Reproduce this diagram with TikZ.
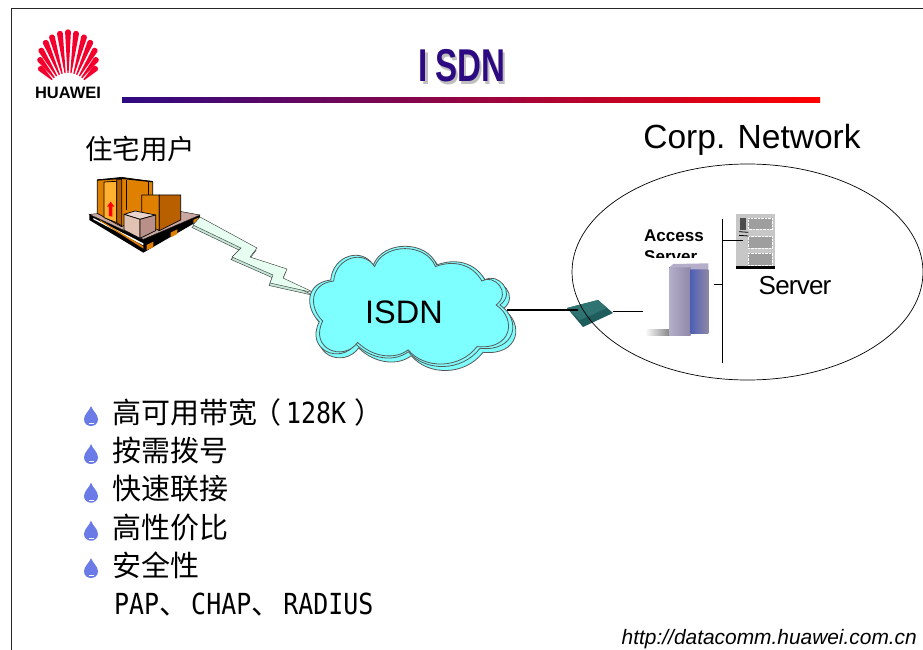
\documentclass[tikz,border=0pt]{standalone}
\usepackage{fontspec}
\setmainfont{Liberation Sans}
\newfontfamily\cjk{Noto Sans CJK SC}
\newfontfamily\halffont[FakeStretch=.86]{DejaVu Sans Mono}
\newfontfamily\titlefont[FakeStretch=.72]{Liberation Sans}
\usetikzlibrary{shapes.geometric}
\definecolor{huaweired}{HTML}{F5002D}
\definecolor{titleblue}{HTML}{2E0A82}
\definecolor{cloudcyan}{HTML}{7DFFFF}
\definecolor{dropblue}{HTML}{6A7AE6}
\definecolor{boxlight}{HTML}{FFB030}
\definecolor{boxmid}{HTML}{E08000}
\definecolor{boxdark}{HTML}{B86000}
\definecolor{palletpink}{HTML}{C8A8A0}
\definecolor{cratetop}{HTML}{E8D4CC}
\definecolor{crateleft}{HTML}{E2C2B2}
\definecolor{crateright}{HTML}{B89088}
\definecolor{boltfill}{HTML}{E6FFF0}
\definecolor{boltshade}{HTML}{C4E6D6}
\definecolor{modemdark}{HTML}{1F5C5C}
\definecolor{modemtop}{HTML}{2F7472}
\definecolor{cabinetlight}{HTML}{B4AECB}
\definecolor{cabinetmid}{HTML}{8E88A6}
\definecolor{cabinetblue}{HTML}{4F60B4}
\newcommand{\cloudoutline}{(319.3,321.7)
   .. controls (305,308) and (305,283) .. (330.7,280)
   .. controls (333,255) and (362,247) .. (373.3,265)
   .. controls (383,240) and (427,240) .. (436.7,265)
   .. controls (455,258) and (475,262) .. (485,280)
   .. controls (497,272) and (517,292) .. (500,305)
   .. controls (522,320) and (516,352) .. (480,348.3)
   .. controls (462,372) and (425,372) .. (408.3,351.7)
   .. controls (395,362) and (372,360) .. (355.7,344)
   .. controls (340,365) and (305,350) .. (319.3,321.7) -- cycle}
\newcommand{\boltoutline}{(200,217) -- (257,248) -- (250,257) -- (287,269) -- (283,278) -- (315,293) -- (270,283) -- (273,275) -- (232,257) -- (241,248) -- (193,225) -- cycle}
\tikzset{
   cloudedge/.style={draw=black!65,fill=cloudcyan,line width=.8pt},
   wire/.style={draw=black,line width=.8pt},
   inkedge/.style={draw=black,line width=.7pt,line join=round},
   bodytext/.style={inner sep=0pt,anchor=base west,font=\fontsize{29}{32}\selectfont},
   petal/.pic={
      \fill[huaweired] (-.6,-22) -- (-2.9,-#1+3) .. controls (-2.9,-#1-.5) and (2.9,-#1-.5) .. (2.9,-#1+3) -- (.6,-22) -- cycle;
   },
   dropmark/.pic={
      \fill[dropblue] (0,-10) .. controls (-1.5,-5) and (-7,-2) .. (-7,3.5)
         .. controls (-7,8) and (-3,10) .. (0,10)
         .. controls (3,10) and (7,8) .. (7,3.5)
         .. controls (7,-2) and (1.5,-5) .. (0,-10) -- cycle;
      \draw[white,line width=.8pt] (-2.5,7.6) -- (2.5,7.6);
   }
}
\begin{document}
\begin{tikzpicture}[x=1pt,y=-1pt]
   \useasboundingbox (0,0) rectangle (923,650);
   \fill[white] (0,0) rectangle (923,650);
   \draw[black!85,line width=1pt] (923,8.5) -- (11,8.5) -- (11,650);

   \pic[rotate=46] at (68,95) {petal=41};
   \pic[rotate=38.5] at (68,95) {petal=48};
   \pic[rotate=31] at (68,95) {petal=55};
   \pic[rotate=23] at (68,95) {petal=60};
   \pic[rotate=15.5] at (68,95) {petal=63};
   \pic[rotate=7.5] at (68,95) {petal=65};
   \pic at (68,95) {petal=66};
   \pic[rotate=-7.5] at (68,95) {petal=65};
   \pic[rotate=-15.5] at (68,95) {petal=63};
   \pic[rotate=-23] at (68,95) {petal=60};
   \pic[rotate=-31] at (68,95) {petal=55};
   \pic[rotate=-38.5] at (68,95) {petal=48};
   \pic[rotate=-46] at (68,95) {petal=41};
   \node[inner sep=0pt,font=\fontsize{16.5}{18}\selectfont\bfseries] (huawei) at (68,93) {HUAWEI};

   \fill[left color=titleblue,right color=red] (122,98) rectangle (820,103);
   \node[inner sep=0pt,text=black!25,font=\fontsize{46}{48}\selectfont\titlefont\bfseries] (titleshadow) at (464.5,68.5) {I\kern7ptSDN};
   \node[inner sep=0pt,text=titleblue,font=\fontsize{46}{48}\selectfont\titlefont\bfseries] (title) at (462,66) {I\kern7ptSDN};

   \node[inner sep=0pt,font=\fontsize{27.5}{30}\selectfont\cjk] (home) at (140,148.5) {住宅用户};
   \node[inner sep=0pt,font=\fontsize{33.5}{36}\selectfont] (corp) at (752,140) {Corp. Network};

   \begin{scope}[shift={(80,170)},scale=.3333]
      \fill[black] (28,133) -- (28,150) -- (190,248) -- (360,150) -- (360,135) -- (190,208) -- cycle;
      \fill[white] (40,148) -- (190,226) -- (190,220) -- (40,144) -- cycle;
      \fill[boxmid] (60,153) -- (190,236) -- (190,229) -- (60,150) -- cycle;
      \fill[boxmid] (200,225) -- (220,215) -- (220,232) -- (200,240) -- cycle;
      \fill[boxmid] (272,188) -- (292,178) -- (292,192) -- (272,202) -- cycle;
      \fill[boxmid] (340,150) -- (355,143) -- (355,152) -- (340,160) -- cycle;
      \draw[black,fill=palletpink] (28,133) -- (190,208) -- (360,135) -- (305,125) -- (120,125) -- cycle;
      \draw[inkedge,fill=boxmid] (52,30) -- (125,22) -- (218,35) -- (218,120) -- (125,170) -- (52,130) -- cycle;
      \draw[inkedge,fill=boxlight] (72,36) -- (110,34) -- (110,158) -- (72,143) -- cycle;
      \draw[inkedge,fill=boxdark] (110,28) -- (125,28) -- (125,168) -- (110,158) -- cycle;
      \draw[inkedge] (140,30) -- (140,120);
      \draw[inkedge] (205,34) -- (205,75);
      \draw[black,line width=1.2pt] (52,30) -- (125,25) -- (218,35);
      \fill[red] (92,95) -- (103,110) -- (97,110) -- (97,140) -- (87,138) -- (87,110) -- (81,110) -- cycle;
      \draw[inkedge,fill=boxmid] (185,75) -- (238,75) -- (238,182) -- (185,155) -- cycle;
      \draw[inkedge,fill=boxdark] (238,75) -- (302,75) -- (302,150) -- (238,182) -- cycle;
      \draw[inkedge,fill=cratetop] (132,133) -- (165,123) -- (227,135) -- (180,148) -- cycle;
      \draw[inkedge,fill=crateleft] (132,133) -- (180,148) -- (180,205) -- (132,180) -- cycle;
      \draw[inkedge,fill=crateright] (180,148) -- (227,135) -- (227,182) -- (180,205) -- cycle;
   \end{scope}

   \draw[black!80,fill=boltshade,shift={(-1,2.5)}] \boltoutline;
   \draw[black!80,fill=boltfill] \boltoutline;

   \draw[cloudedge,shift={(3,4)}] \cloudoutline;
   \draw[cloudedge] \cloudoutline;
   \draw[cloudedge,shift={(405,305)},scale=.96,shift={(-405,-305)}] \cloudoutline;
   \node[inner sep=0pt,font=\fontsize{32.5}{35}\selectfont] (isdn) at (404,312) {ISDN};
   \coordinate (cloudport) at (507,310);

   \fill[modemdark] (567,308) -- (598,300) -- (613,313) -- (583,327) -- cycle;
   \fill[modemtop] (567,308) -- (598,300) -- (607,308) -- (580,320) -- cycle;
   \node[inner sep=0pt,minimum width=46pt,minimum height=20pt] (modem) at (590,311) {};
   \node[ellipse,draw=black,line width=.7pt,inner sep=0pt,minimum width=351pt,minimum height=216pt] (corpnet) at (747.5,272) {};

   \node[inner sep=0pt,anchor=north west,align=left,font=\fontsize{17}{21}\selectfont\bfseries] (accesslabel) at (644,229.5) {Access\\Server};
   \node[fill=white,inner sep=0pt,minimum width=71pt,minimum height=82pt] (access) at (678.5,299) {};
   \begin{scope}[shift={(560,190)},scale=.3333]
      \fill[left color=white,right color=black!50] (255,418) rectangle (332,436);
      \fill[left color=cabinetlight,right color=cabinetmid] (328,232) rectangle (392,436);
      \fill[left color=cabinetblue,right color=cabinetmid] (392,238) rectangle (445,432);
      \fill[cabinetlight] (328,232) -- (340,222) -- (445,220) -- (445,238) -- (392,238) -- (392,232) -- cycle;
   \end{scope}

   \begin{scope}[shift={(560,190)},scale=.3333]
      \fill[black!22] (528,72) rectangle (645,235);
      \fill[black] (528,228) rectangle (645,236);
      \fill[black!70] (540,85) rectangle (557,120);
      \draw[black,line width=.8pt] (537,125) -- (565,127);
      \draw[black,line width=.8pt] (537,136) -- (565,138);
      \draw[white,fill=black!38,densely dotted] (565,85) rectangle (637,118);
      \draw[white,fill=black!38,densely dotted] (565,140) rectangle (637,175);
      \draw[white,fill=black!38,densely dotted] (565,190) rectangle (637,225);
   \end{scope}
   \node[inner sep=0pt,minimum width=39pt,minimum height=54pt] (rack) at (755.5,241) {};
   \node[inner sep=0pt,font=\fontsize{26}{28}\selectfont\addfontfeature{LetterSpace=-3}] (serverlabel) at (795,286) {Server};

   \coordinate (bustop) at (722.7,219);
   \coordinate (busbottom) at (722.7,362.7);
   \coordinate (rackstub) at (722.7,240.7);
   \coordinate (accessstub) at (722.7,284);
   \draw[line width=2.4pt] (cloudport) -- (578,310);
   \draw[wire] (modem.east) -- (modem.east -| access.west);
   \draw[wire] (bustop) -- (busbottom);
   \draw[wire] (rackstub) -- (743,240.7);
   \draw[wire] (accessstub) -- (access.east |- accessstub);

   \pic at (91,416) {dropmark};
   \pic at (91,454) {dropmark};
   \pic at (91,492.7) {dropmark};
   \pic at (91,530.7) {dropmark};
   \pic at (91,568) {dropmark};
   \node[bodytext] (item1) at (112,423) {\cjk 高可用带宽\kern-5pt（\kern5pt\halffont 128K\kern8pt\cjk ）};
   \node[bodytext] (item2) at (112,461) {\cjk 按需拨号};
   \node[bodytext] (item3) at (112,499) {\cjk 快速联接};
   \node[bodytext] (item4) at (112,538) {\cjk 高性价比};
   \node[bodytext] (item5) at (112,576) {\cjk 安全性};
   \node[bodytext] (item6) at (114,614) {\halffont PAP\cjk 、\kern3pt\halffont CHAP\cjk 、\kern3pt\halffont RADIUS};

   \node[inner sep=0pt,anchor=east,font=\fontsize{20.9}{24}\selectfont\itshape] (url) at (917,639) {http://datacomm.huawei.com.cn};
\end{tikzpicture}
\end{document}
